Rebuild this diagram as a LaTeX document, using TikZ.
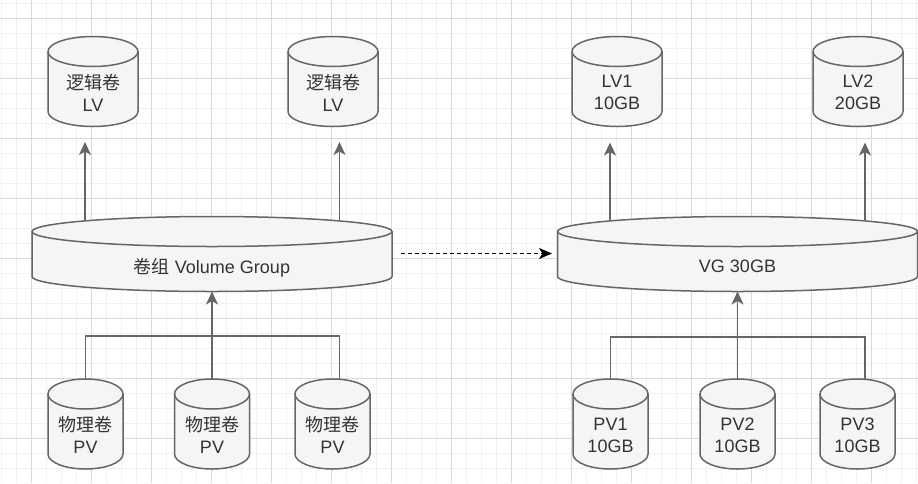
\documentclass[tikz,border=0pt]{standalone}
\usepackage{fontspec}
\setmainfont{Liberation Sans}
\newfontfamily\cjk{Noto Sans CJK SC}
\usetikzlibrary{arrows.meta}

\pgfdeclarelayer{grid}
\pgfdeclarelayer{links}
\pgfdeclarelayer{drums}
\pgfsetlayers{grid,links,drums,main}

\definecolor{DrumFill}{HTML}{F5F5F5}
\definecolor{DrumLine}{HTML}{666666}
\definecolor{DrumText}{HTML}{333333}
\definecolor{GridMajor}{HTML}{DADADA}
\definecolor{GridMinor}{HTML}{F1F1F1}

\tikzstyle{drum}=[inner sep=0pt, outer sep=0pt, align=center, minimum height=60pt, text depth=8pt, text=DrumText, font=\fontsize{18pt}{22pt}\selectfont]
\tikzstyle{drum-line}=[draw=DrumLine, fill=DrumFill, line width=1.5pt]
\tikzstyle{wire}=[draw=DrumLine, line width=1.5pt]
\tikzstyle{flow}=[wire, -{Stealth[length=13pt, width=12pt, inset=3.5pt]}]
\tikzstyle{dash-flow}=[draw=black, line width=1.5pt, dash pattern=on 4pt off 3pt, -{Stealth[length=13pt, width=11pt, inset=3.5pt]}]

\begin{document}
\begin{tikzpicture}[x=1pt, y=1pt]
      \useasboundingbox (0,0) rectangle (918,-483);

      % grid
      \begin{pgfonlayer}{grid}
        \fill[white] (0,0) rectangle (918,-483);
        \foreach \x in {1.7,16.7,...,918} \draw[GridMinor, line width=1pt] (\x,0) -- (\x,-483);
        \foreach \y in {3.5,18.5,...,483} \draw[GridMinor, line width=1pt] (0,-\y) -- (918,-\y);
        \foreach \x in {31.7,91.7,...,918} \draw[GridMajor, line width=1pt] (\x,0) -- (\x,-483);
        \foreach \y in {18.5,78.5,...,483} \draw[GridMajor, line width=1pt] (0,-\y) -- (918,-\y);
      \end{pgfonlayer}

      % left: concept
      \node (lv-a) at (93,-96.5) [drum, minimum width=90pt] {{\cjk 逻辑卷}\\LV};
      \node (lv-b) at (333,-96.5) [drum, minimum width=90pt] {{\cjk 逻辑卷}\\LV};
      \node (vg-a) at (212,-269) [drum, minimum width=360pt, minimum height=45pt, text depth=6pt] {{\cjk 卷组} Volume Group};
      \node (pv-a) at (85.5,-439) [drum, minimum width=75pt] {{\cjk 物理卷}\\PV};
      \node (pv-b) at (212,-439) [drum, minimum width=75pt] {{\cjk 物理卷}\\PV};
      \node (pv-c) at (332.5,-439) [drum, minimum width=75pt] {{\cjk 物理卷}\\PV};

      % right: example
      \node (lv-1) at (617,-96.5) [drum, minimum width=90pt] {LV1\\10GB};
      \node (lv-2) at (858,-96.5) [drum, minimum width=90pt] {LV2\\20GB};
      \node (vg-b) at (737.5,-269) [drum, minimum width=360pt, minimum height=45pt, text depth=6pt] {VG 30GB};
      \node (pv-1) at (610.5,-439) [drum, minimum width=75pt] {PV1\\10GB};
      \node (pv-2) at (737.5,-439) [drum, minimum width=75pt] {PV2\\10GB};
      \node (pv-3) at (857.5,-439) [drum, minimum width=75pt] {PV3\\10GB};

      \begin{pgfonlayer}{drums}
        \foreach \n/\r in {lv-a/45, lv-b/45, vg-a/180, pv-a/37.5, pv-b/37.5, pv-c/37.5, lv-1/45, lv-2/45, vg-b/180, pv-1/37.5, pv-2/37.5, pv-3/37.5} {
          \path[drum-line] ([yshift=15pt]\n.north west) arc[start angle=180, end angle=0, x radius=\r, y radius=15] -- ([yshift=15pt]\n.south east) arc[start angle=0, end angle=-180, x radius=\r, y radius=15] -- cycle;
          \draw[DrumLine, line width=1.5pt] ([yshift=15pt]\n.north west) arc[start angle=180, end angle=360, x radius=\r, y radius=15];
        }
      \end{pgfonlayer}

      \begin{pgfonlayer}{links}
        \coordinate (lva-in) at (85,-142);
        \coordinate (lvb-in) at (339.5,-142);
        \coordinate (lv1-in) at (610,-142.5);
        \coordinate (lv2-in) at (865,-142.5);
        \coordinate (bus-a) at (212,-336);
        \coordinate (bus-b) at (737.5,-337);

        \draw[flow] (lva-in |- vg-a.north) -- (lva-in);
        \draw[flow] (lvb-in |- vg-a.north) -- (lvb-in);
        \draw[flow] (lv1-in |- vg-b.north) -- (lv1-in);
        \draw[flow] (lv2-in |- vg-b.north) -- (lv2-in);

        \draw[wire] (pv-a.north) |- (bus-a);
        \draw[wire] ([xshift=7pt]pv-c.north) |- (bus-a);
        \draw[flow] (pv-b.north) -- (vg-a.south);

        \draw[wire] (pv-1.north) |- (bus-b);
        \draw[wire] ([xshift=7.5pt]pv-3.north) |- (bus-b);
        \draw[flow] (pv-2.north) -- (vg-b.south);

        \draw[dash-flow] ([shift={(9,15.5)}]vg-a.east) -- ([shift={(-5.5,15.5)}]vg-b.west);
      \end{pgfonlayer}
    \end{tikzpicture}
\end{document}
